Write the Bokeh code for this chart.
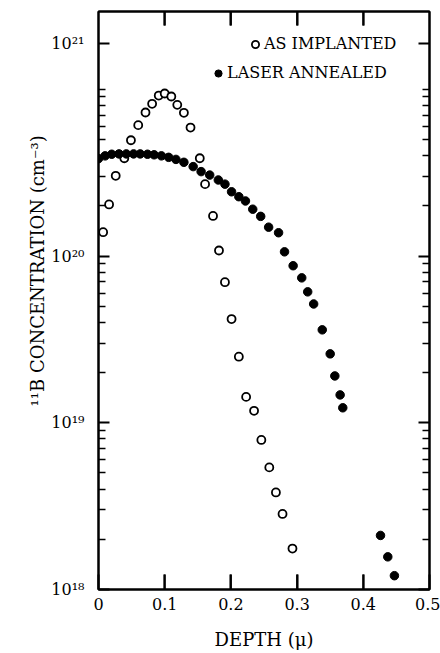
from bokeh.plotting import figure
from bokeh.models import (LogAxis, LinearAxis, FixedTicker, Legend, LegendItem,
                          Title, ColumnDataSource, Range1d)
from bokeh.embed import file_html
from bokeh.resources import INLINE

# ---- data (depth in microns, concentration in cm^-3) ----
depth_implanted = [0.007, 0.016, 0.026, 0.039, 0.049, 0.060, 0.071, 0.081, 0.091, 0.100,
                   0.110, 0.119, 0.129, 0.139, 0.153, 0.161, 0.173, 0.182, 0.191, 0.201,
                   0.212, 0.223, 0.235, 0.246, 0.258, 0.268, 0.278, 0.293]
conc_implanted = [1.39e20, 2.04e20, 3.03e20, 3.86e20, 4.95e20, 6.10e20, 7.26e20, 8.19e20,
                  9.18e20, 9.44e20, 9.06e20, 8.07e20, 7.23e20, 5.90e20, 3.86e20, 2.70e20,
                  1.74e20, 1.08e20, 6.97e19, 4.19e19, 2.49e19, 1.43e19, 1.18e19, 7.89e18,
                  5.40e18, 3.82e18, 2.84e18, 1.76e18]

depth_annealed = [0.000, 0.010, 0.020, 0.031, 0.042, 0.053, 0.063, 0.074, 0.084, 0.095,
                  0.106, 0.117, 0.129, 0.143, 0.155, 0.168, 0.181, 0.191, 0.201, 0.212,
                  0.222, 0.233, 0.245, 0.257, 0.272, 0.281, 0.294, 0.307, 0.316, 0.325,
                  0.338, 0.350, 0.357, 0.365, 0.369, 0.426, 0.437, 0.447]
conc_annealed = [3.84e20, 3.99e20, 4.08e20, 4.10e20, 4.10e20, 4.10e20, 4.10e20, 4.08e20,
                 4.05e20, 3.99e20, 3.91e20, 3.80e20, 3.65e20, 3.44e20, 3.21e20, 3.06e20,
                 2.86e20, 2.70e20, 2.43e20, 2.27e20, 2.14e20, 1.91e20, 1.73e20, 1.49e20,
                 1.38e20, 1.06e20, 8.75e19, 7.40e19, 6.10e19, 5.16e19, 3.61e19, 2.59e19,
                 1.91e19, 1.47e19, 1.23e19, 2.11e18, 1.57e18, 1.21e18]

x_ticks = [0.0, 0.1, 0.2, 0.3, 0.4, 0.5]
x_tick_labels = ["0", "0.1", "0.2", "0.3", "0.4", "0.5"]
inner_x_ticks = [0.1, 0.2, 0.3, 0.4]
y_ticks = [1e18, 1e19, 1e20, 1.88e21]
y_tick_labels = ["10¹⁸", "10¹⁹", "10²⁰", "10²¹"]
y_minor = [k * 10.0 ** n for n in (18, 19, 20) for k in range(2, 10)] + [1e21]

X_START, X_END = 0.0, 0.5
Y_START, Y_END = 1e18, 2.93e21

series_labels = ["AS IMPLANTED", "LASER ANNEALED"]
x_title = "DEPTH (μ)"
y_title = "¹¹B CONCENTRATION (cm⁻³)"

FONT = "DejaVu Serif"

p = figure(width=440, height=653, x_range=Range1d(X_START, X_END),
           y_range=Range1d(Y_START, Y_END),
           x_axis_location=None, y_axis_type="log", output_backend="svg",
           toolbar_location=None,
           min_border_left=98, min_border_right=11, min_border_top=11, min_border_bottom=64)
p.grid.visible = False
p.outline_line_color = "black"
p.outline_line_width = 2
p.background_fill_color = "white"
p.border_fill_color = "white"

# tick marks on the bottom and top edges (half of each rect is clipped by the frame)
n_t = len(inner_x_ticks)
p.rect(x=inner_x_ticks, y=[Y_START] * n_t, width=2, height=30,
       width_units="screen", height_units="screen", fill_color="black", line_color=None)
p.rect(x=inner_x_ticks, y=[Y_END] * n_t, width=2, height=28,
       width_units="screen", height_units="screen", fill_color="black", line_color=None)

src_i = ColumnDataSource(dict(x=depth_implanted, y=conc_implanted))
src_a = ColumnDataSource(dict(x=depth_annealed, y=conc_annealed))
r_i = p.scatter("x", "y", source=src_i, size=8, marker="circle",
                fill_color="white", line_color="black", line_width=1.8)
r_a = p.scatter("x", "y", source=src_a, size=8.5, marker="circle",
                fill_color="black", line_color="black")

# bottom axis (explicit)
xa = LinearAxis(ticker=FixedTicker(ticks=x_ticks, minor_ticks=[]),
                major_label_overrides=dict(zip(x_ticks, x_tick_labels)),
                axis_label=x_title)
p.add_layout(xa, "below")
# left axis
ya = p.yaxis[0]
ya.ticker = FixedTicker(ticks=y_ticks, minor_ticks=y_minor)
ya.major_label_overrides = dict(zip(y_ticks, y_tick_labels))

right = LogAxis(ticker=FixedTicker(ticks=y_ticks, minor_ticks=y_minor))
top = LinearAxis(ticker=FixedTicker(ticks=inner_x_ticks, minor_ticks=[]))
p.add_layout(right, "right")
p.add_layout(top, "above")

for ax in (xa, ya, right, top):
    ax.axis_line_width = 2
    ax.axis_line_color = "black"
    ax.major_tick_out = 0
    ax.minor_tick_out = 0
    ax.major_tick_line_width = 2
    ax.minor_tick_line_width = 1.5
    ax.major_tick_line_color = "black"
    ax.minor_tick_line_color = "black"
    ax.major_label_text_font = FONT
    ax.major_label_text_font_size = "16px"
    ax.major_label_text_color = "black"
    ax.axis_label_text_font = FONT
    ax.axis_label_text_font_style = "normal"
    ax.axis_label_text_font_size = "18px"
    ax.axis_label_text_color = "black"

xa.major_tick_in = 15
top.major_tick_in = 14
for ax in (xa, top):
    ax.minor_tick_in = 0
for ax in (ya, right):
    ax.major_tick_in = 11
    ax.minor_tick_in = 7
xa.major_label_standoff = 8
xa.axis_label_standoff = 16
ya.major_label_standoff = 14
for ax in (right, top):
    ax.major_label_text_font_size = "1px"
    ax.major_label_text_alpha = 0
    ax.major_label_standoff = 0

ytitle = Title(text=y_title, align="left", offset=183, standoff=2,
               text_font=FONT, text_font_size="18px", text_font_style="normal",
               text_color="black")
p.add_layout(ytitle, "left")

common = dict(padding=0, margin=0, border_line_alpha=0, background_fill_alpha=0,
              glyph_width=18, glyph_height=18, label_height=18, label_standoff=0,
              label_text_font=FONT, label_text_font_size="16px", label_text_color="black")
leg1 = Legend(items=[LegendItem(label=series_labels[0], renderers=[r_i])],
              location=(148, 536), **common)
leg2 = Legend(items=[LegendItem(label=series_labels[1], renderers=[r_a])],
              location=(111, 507), **common)
p.add_layout(leg1)
p.add_layout(leg2)

open("out.html", "w").write(file_html(p, INLINE))
